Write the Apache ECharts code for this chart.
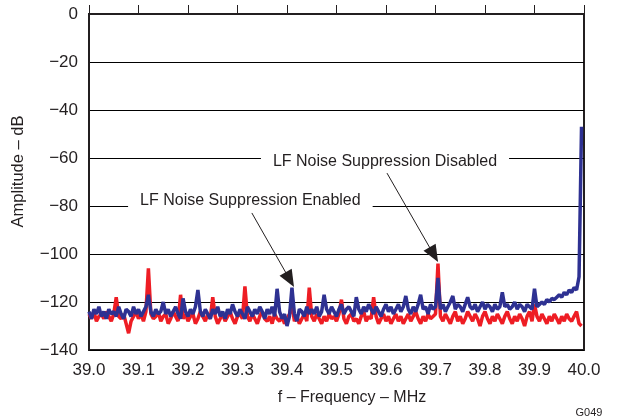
<!DOCTYPE html>
<html>
<head>
<meta charset="utf-8">
<script src="https://cdn.jsdelivr.net/npm/echarts@6/dist/echarts.min.js"></script>
<style>
html,body{margin:0;padding:0;background:#fff;}
#chart{width:619px;height:419px;}
</style>
</head>
<body>
<div id="chart"></div>
<script>
// Sampling grid of the spectrum (MHz)
var freqStart = 39.0;
var freqStep = 0.005;

// LF Noise Suppression Disabled (red), dB
var disabledDb = [
  -125,-127,-124,-128,-126,-125,-127,-124,-126,-128,
  -125,-118,-126,-127,-125,-129,-133,-128,-126,-124,
  -127,-125,-128,-124,-106,-125,-127,-126,-124,-128,
  -126,-125,-129,-127,-124,-126,-128,-117,-127,-125,
  -128,-126,-125,-129,-127,-124,-126,-128,-125,-127,
  -118,-126,-129,-127,-125,-128,-126,-124,-127,-129,
  -126,-125,-127,-113.5,-126,-128,-125,-127,-129,-126,
  -124,-127,-128,-126,-129,-125,-127,-128,-126,-129,
  -127,-125,-121,-128,-126,-129,-127,-125,-128,-114,
  -126,-128,-125,-127,-129,-126,-128,-125,-127,-126,
  -128,-125,-119,-127,-129,-126,-125,-128,-127,-129,
  -126,-124,-128,-126,-127,-118,-126,-129,-127,-125,
  -128,-126,-129,-127,-125,-128,-126,-129,-127,-125,
  -128,-126,-124,-127,-129,-126,-128,-125,-127,-126,
  -125,-104,-126,-128,-125,-127,-129,-126,-124,-128,
  -126,-129,-127,-124,-126,-128,-125,-127,-130,-126,
  -124,-127,-129,-126,-128,-125,-127,-129,-126,-124,
  -127,-129,-126,-128,-125,-127,-130,-126,-124,-128,
  -121,-126,-128,-125,-127,-129,-126,-128,-125,-127,
  -129,-126,-128,-125,-127,-128,-126,-124,-129,-130
];

// LF Noise Suppression Enabled (blue), dB
var enabledDb = [
  -124,-127,-123,-125,-122,-126,-124,-127,-123,-125,
  -124,-126,-122,-125,-127,-123,-124,-126,-122,-125,
  -123,-126,-124,-122,-117,-124,-126,-123,-125,-124,
  -120,-125,-123,-126,-124,-122,-125,-127,-118.5,-124,
  -126,-123,-125,-122,-115,-124,-126,-123,-125,-127,
  -123,-125,-122,-126,-124,-127,-123,-125,-121,-124,
  -126,-123,-125,-127,-122,-124,-126,-123,-125,-122,
  -124,-127,-123,-125,-122,-126,-114.5,-124,-127,-125,
  -130,-126,-114,-125,-128,-123,-124,-126,-122,-125,
  -123,-125,-122,-126,-124,-117,-123,-125,-122,-124,
  -126,-123,-121,-125,-123,-122,-124,-126,-118,-123,
  -125,-122,-124,-121,-123,-125,-122,-124,-126,-123,
  -121,-124,-122,-125,-123,-121,-124,-122,-117.5,-123,
  -125,-122,-124,-121,-117,-123,-122,-125,-121,-123,
  -122,-110,-123,-121,-124,-122,-120,-117.5,-123,-121,
  -122,-124,-121,-118,-122,-123,-121,-124,-122,-120,
  -123,-121,-122,-124,-121,-123,-122,-116,-122,-121,
  -123,-122,-120,-123,-121,-122,-124,-121,-122,-123,
  -114.5,-122,-121,-120,-121,-119,-120,-118.5,-119,-118,
  -117,-118,-116,-117,-115,-116,-114,-115,-109.5,-47
];

var xTicks = [39.0,39.1,39.2,39.3,39.4,39.5,39.6,39.7,39.8,39.9,40.0];
var yTicks = [0,-20,-40,-60,-80,-100,-120,-140];

// Annotation texts and anchor points (data coordinates)
var annotTexts = ['LF Noise Suppression Disabled', 'LF Noise Suppression Enabled'];
var annotLabelAt = [[39.598, -61.5], [39.326, -77.8]];
var annotArrowFrom = [[39.602, -66.3], [39.329, -82.9]];
var annotArrowTo = [[39.6966, -100.3], [39.4057, -110.7]];

function toPairs(vals){
  var out = [];
  for (var i = 0; i < vals.length; i++) {
    out.push([+(freqStart + i * freqStep).toFixed(3), vals[i]]);
  }
  return out;
}

var FONT = '"Liberation Sans", Arial, Helvetica, sans-serif';
var TXT = '#231f20';

var chart = echarts.init(document.getElementById('chart'), null, {renderer:'canvas'});

var markPointData = annotTexts.map(function(t, k){
  return {
    coord: annotLabelAt[k],
    symbol: 'rect',
    symbolSize: 1,
    itemStyle: {color: 'rgba(0,0,0,0)'},
    label: {
      show: true, position: 'inside', formatter: t,
      fontFamily: FONT, fontSize: 16, color: TXT,
      backgroundColor: '#fff', padding: [3, 12]
    }
  };
});
var markLineData = annotTexts.map(function(t, k){
  return [{coord: annotArrowFrom[k]}, {coord: annotArrowTo[k]}];
});

chart.setOption({
  animation: false,
  backgroundColor: '#fff',
  grid: {left: 89, right: 35, top: 14, bottom: 69, show: true,
         borderColor: '#231f20', borderWidth: 2, backgroundColor: 'transparent'},
  xAxis: {
    type: 'value', min: 39, max: 40, interval: 0.1,
    axisLine: {show: true, lineStyle: {color: '#231f20', width: 2}},
    axisTick: {show: true, inside: true, length: 9, lineStyle: {color: '#231f20', width: 1}},
    axisLabel: {fontFamily: FONT, fontSize: 17, color: TXT, margin: 12,
      formatter: function(v){ return v.toFixed(1); }},
    splitLine: {show: false}
  },
  yAxis: {
    type: 'value', min: -140, max: 0, interval: 20,
    axisLine: {show: true, lineStyle: {color: '#231f20', width: 2}},
    axisTick: {show: false},
    axisLabel: {fontFamily: FONT, fontSize: 17, color: TXT, margin: 11,
      formatter: function(v){ return String(v).replace('-', '\u2212'); }},
    splitLine: {show: true, lineStyle: {color: '#000', width: 1}}
  },
  graphic: [
    {type: 'text', x: 18.5, y: 171.5, rotation: Math.PI / 2,
     style: {text: 'Amplitude \u2013 dB', font: '16.5px ' + FONT, fill: TXT,
             textAlign: 'center', textVerticalAlign: 'middle'}},
    {type: 'text', x: 352, y: 398,
     style: {text: 'f \u2013 Frequency \u2013 MHz', font: '16px ' + FONT, fill: TXT,
             textAlign: 'center', textVerticalAlign: 'middle'}},
    {type: 'text', x: 589, y: 412.5,
     style: {text: 'G049', font: '11px ' + FONT, fill: TXT,
             textAlign: 'center', textVerticalAlign: 'middle'}}
  ],
  series: [
    {
      name: 'Disabled', type: 'line', data: toPairs(disabledDb),
      showSymbol: false, symbol: 'none',
      lineStyle: {color: '#ee1d24', width: 3.5}, itemStyle: {color: '#ee1d24'},
      z: 2
    },
    {
      name: 'Enabled', type: 'line', data: toPairs(enabledDb),
      showSymbol: false, symbol: 'none',
      lineStyle: {color: '#2e3192', width: 3.5}, itemStyle: {color: '#2e3192'},
      z: 3,
      markPoint: {silent: true, data: markPointData, z: 5},
      markLine: {
        silent: true, z: 5,
        symbol: ['none', 'triangle'], symbolSize: [14, 17],
        label: {show: false},
        lineStyle: {color: '#231f20', width: 1, type: 'solid'},
        data: markLineData
      }
    }
  ]
});
</script>
</body>
</html>
